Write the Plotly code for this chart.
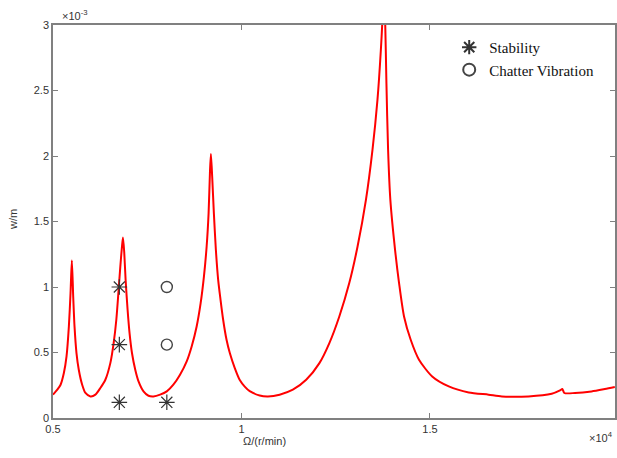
import plotly.graph_objects as go

# Curve (Omega in 1e4 r/min, w in 1e-3 m)
omega = [0.500, 0.5114, 0.5201, 0.5288, 0.5359, 0.5421, 0.5465, 0.5500, 0.5536, 0.5571,
         0.5623, 0.5684, 0.5774, 0.5861, 0.5993, 0.6125, 0.6257, 0.6389, 0.6521, 0.6609,
         0.6680, 0.6741, 0.6786, 0.6830, 0.6857, 0.6891, 0.6926, 0.6979, 0.7031, 0.7095,
         0.7182, 0.7269, 0.7401, 0.7533, 0.7665, 0.7842, 0.8019, 0.8193, 0.8370, 0.8547,
         0.8679, 0.8811, 0.8917, 0.9004, 0.9076, 0.9128, 0.9163, 0.9189, 0.9223, 0.9268,
         0.9321, 0.9382, 0.9445, 0.9514, 0.9604, 0.9691, 0.9823, 0.9955, 1.0087, 1.0219,
         1.0483, 1.0703, 1.1012, 1.1363, 1.1717, 1.2068, 1.2332, 1.2596, 1.2860, 1.3080,
         1.3302, 1.3476, 1.3608, 1.3698, 1.3740, 1.3765, 1.3811, 1.3846, 1.3890, 1.3950,
         1.4075, 1.4181, 1.4313, 1.4490, 1.4710, 1.5060, 1.5500, 1.6030, 1.6556, 1.6910,
         1.7615, 1.8231, 1.8452, 1.8513, 1.8566, 1.8848, 1.9287, 1.9640, 1.9905]
w = [0.178, 0.216, 0.254, 0.343, 0.470, 0.699, 0.953, 1.202, 0.928, 0.699,
     0.496, 0.368, 0.254, 0.191, 0.165, 0.178, 0.229, 0.292, 0.419, 0.572,
     0.750, 0.979, 1.156, 1.309, 1.378, 1.258, 1.055, 0.826, 0.648, 0.496,
     0.368, 0.279, 0.203, 0.170, 0.165, 0.178, 0.203, 0.254, 0.330, 0.432,
     0.546, 0.699, 0.877, 1.080, 1.309, 1.564, 1.869, 2.016, 1.843, 1.564,
     1.284, 1.055, 0.902, 0.750, 0.597, 0.496, 0.381, 0.290, 0.240, 0.205,
     0.172, 0.165, 0.178, 0.216, 0.292, 0.419, 0.572, 0.775, 1.030, 1.309,
     1.665, 2.047, 2.428, 2.809, 3.050, 3.400, 3.050, 2.555, 2.047, 1.665,
     1.284, 1.030, 0.775, 0.597, 0.445, 0.317, 0.241, 0.195, 0.178, 0.165,
     0.165, 0.185, 0.211, 0.221, 0.191, 0.191, 0.203, 0.221, 0.236]

stab_x = [0.676, 0.676, 0.676, 0.802]
stab_y = [1.00, 0.56, 0.12, 0.12]
chat_x = [0.802, 0.802]
chat_y = [1.00, 0.56]

x_ticks = [0.5, 1, 1.5, 2]
x_labels = ["0.5", "1", "1.5", "2"]
y_ticks = [0, 0.5, 1, 1.5, 2, 2.5, 3]
y_labels = ["0", "0.5", "1", "1.5", "2", "2.5", "3"]

fig = go.Figure()
fig.add_trace(go.Scatter(x=omega, y=w, mode="lines",
                         line=dict(color="#ff0000", width=2, shape="spline", smoothing=0.7),
                         showlegend=False, hoverinfo="skip"))
fig.add_trace(go.Scatter(x=stab_x, y=stab_y, mode="markers", name="Stability",
                         marker=dict(symbol="asterisk-open", size=13, color="#333333",
                                     line=dict(color="#333333", width=1.2))))
fig.add_trace(go.Scatter(x=chat_x, y=chat_y, mode="markers", name="Chatter Vibration",
                         marker=dict(symbol="circle-open", size=11, color="#444444",
                                     line=dict(color="#444444", width=1.4))))

axis_common = dict(showline=True, linecolor="#808080", linewidth=1.5, mirror="ticks",
                   ticks="inside", ticklen=5, tickcolor="#808080", showgrid=False,
                   zeroline=False, tickfont=dict(family="Liberation Sans", size=11, color="#333333"))

fig.update_layout(
    width=617, height=458,
    margin=dict(l=53, r=0, t=25, b=40),
    paper_bgcolor="white", plot_bgcolor="white",
    xaxis=dict(range=[0.5, 1.991], tickvals=x_ticks, ticktext=x_labels, **axis_common),
    yaxis=dict(range=[0, 3], tickvals=y_ticks, ticktext=y_labels, **axis_common),
    legend=dict(x=0.705, y=0.985, xanchor="left", yanchor="top", bgcolor="rgba(0,0,0,0)",
                font=dict(family="Liberation Serif", size=15, color="#111111"),
                tracegroupgap=0, itemsizing="constant"),
    annotations=[
        dict(text="×10<sup>-3</sup>", xref="paper", yref="paper", x=0.012, y=1.0, xanchor="left",
             yanchor="bottom", showarrow=False, yshift=1,
             font=dict(family="Liberation Sans", size=11, color="#333333")),
        dict(text="×10<sup>4</sup>", xref="paper", yref="paper", x=1.0, y=0, xanchor="right",
             yanchor="top", showarrow=False, yshift=-10,
             font=dict(family="Liberation Sans", size=11, color="#333333")),
        dict(text="Ω/(r/min)", xref="paper", yref="paper", x=(265 - 53) / 564, y=0,
             xanchor="center", yanchor="top", showarrow=False, yshift=-15,
             font=dict(family="Liberation Sans", size=11, color="#333333")),
        dict(text="w/m", xref="paper", yref="paper", x=0, y=(418 - 220) / 393, textangle=-90,
             xanchor="center", yanchor="middle", showarrow=False, xshift=-40,
             font=dict(family="Liberation Sans", size=11, color="#333333")),
    ],
)

fig.write_html("out.html")
